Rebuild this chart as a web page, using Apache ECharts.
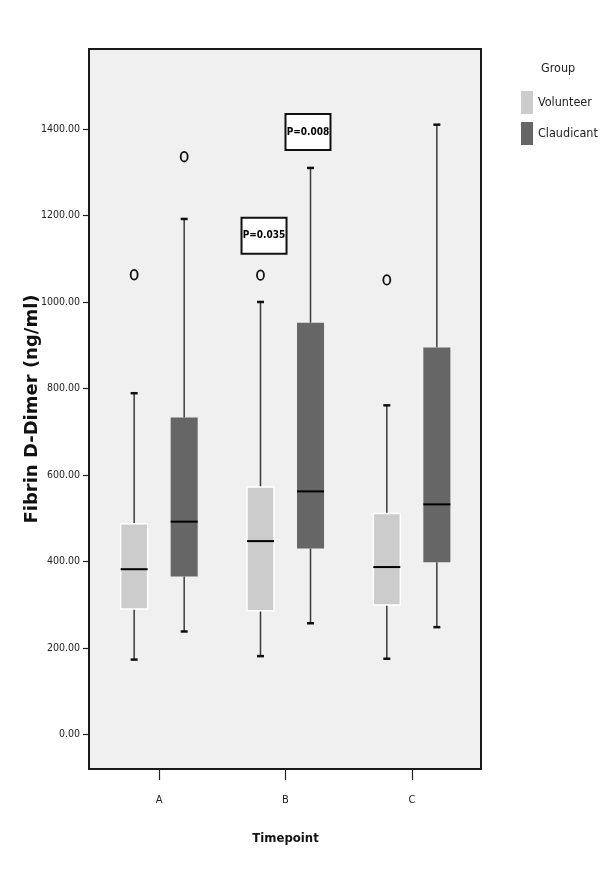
<!DOCTYPE html>
<html><head><meta charset="utf-8">
<script src="https://cdn.jsdelivr.net/npm/echarts@6/dist/echarts.min.js"></script>
<style>html,body{margin:0;padding:0;background:#fff}#c{width:600px;height:892px}</style>
</head><body><div id="c"></div>
<script>
// ---- data ----
var categories = ['A', 'B', 'C'];
var yTicks = [0, 200, 400, 600, 800, 1000, 1200, 1400];
// [low whisker, Q1, median, Q3, high whisker]
var volunteer = [[173, 290, 382, 487, 789], [181, 286, 447, 572, 1000], [175, 299, 387, 511, 761]];
var claudicant = [[238, 365, 492, 733, 1192], [257, 430, 562, 952, 1310], [248, 398, 532, 895, 1410]];
var volunteerOutliers = [['A', 1063], ['B', 1062], ['C', 1051]];
var claudicantOutliers = [['A', 1336]];
var pLabels = ['P=0.035', 'P=0.008'];
var pAnchors = [['B', 1153, 'Volunteer'], ['B', 1393, 'Claudicant']];

// ---- styling ----
var NARROW = "'Liberation Sans Narrow','DejaVu Sans Condensed','Arial Narrow',sans-serif";
var SIDE = { Volunteer: -0.198, Claudicant: 0.198 };
var ANNOT_SIDE = { Volunteer: -0.17, Claudicant: 0.178 };
var BOX = 0.214;

function boxRenderer(side, fill, stroke, strokeW) {
  return function (params, api) {
    var c = api.value(0);
    var band = api.size([1, 0])[0];
    var cx = api.coord([c, 0])[0] + side * band;
    var w = band * BOX;
    var y = function (i) { return api.coord([c, api.value(i)])[1]; };
    var yl = y(1), yq1 = y(2), ym = y(3), yq3 = y(4), yh = y(5);
    var ws = { stroke: '#3a3a3a', lineWidth: 1.5 };
    var cs = { stroke: '#111', lineWidth: 2.5 };
    return { type: 'group', children: [
      { type: 'line', shape: { x1: cx, y1: yq3, x2: cx, y2: yh }, style: ws },
      { type: 'line', shape: { x1: cx, y1: yq1, x2: cx, y2: yl }, style: ws },
      { type: 'line', shape: { x1: cx - 3.5, y1: yh, x2: cx + 3.5, y2: yh }, style: cs },
      { type: 'line', shape: { x1: cx - 3.5, y1: yl, x2: cx + 3.5, y2: yl }, style: cs },
      { type: 'rect', shape: { x: cx - w / 2, y: yq3, width: w, height: yq1 - yq3 }, style: { fill: fill, stroke: stroke, lineWidth: strokeW } },
      { type: 'line', shape: { x1: cx - w / 2, y1: ym, x2: cx + w / 2, y2: ym }, style: { stroke: '#000', lineWidth: 2 } }
    ] };
  };
}
function outlierRenderer(side) {
  return function (params, api) {
    var band = api.size([1, 0])[0];
    var p = api.coord([api.value(0), api.value(1)]);
    return { type: 'ellipse', shape: { cx: p[0] + side * band, cy: p[1], rx: 3.5, ry: 4.8 },
      style: { fill: 'none', stroke: '#111', lineWidth: 1.8 } };
  };
}
function annotRenderer(params, api) {
  var idx = params.dataIndex;
  var band = api.size([1, 0])[0];
  var p = api.coord([api.value(0), api.value(1)]);
  var cx = p[0] + ANNOT_SIDE[pAnchors[idx][2]] * band, cy = p[1];
  return { type: 'group', children: [
    { type: 'rect', shape: { x: cx - 22.5, y: cy - 18, width: 45, height: 36 }, style: { fill: '#fff', stroke: '#111', lineWidth: 2 } },
    { type: 'text', style: { text: pLabels[idx], x: cx, y: cy, align: 'center', verticalAlign: 'middle',
      fontFamily: NARROW, fontWeight: 'bold', fontSize: 10, fill: '#000' } }
  ] };
}
function idx(c) { return categories.indexOf(c); }

var chart = echarts.init(document.getElementById('c'), null, { renderer: 'canvas' });
chart.setOption({
  animation: false,
  backgroundColor: '#fff',
  title: { text: 'Group', left: 541, top: 62, padding: 0,
    textStyle: { fontFamily: NARROW, fontWeight: 'normal', fontSize: 12.5, color: '#222' } },
  legend: { orient: 'vertical', left: 521, top: 91, padding: 0, itemWidth: 12, itemHeight: 23, itemGap: 8,
    selectedMode: false,
    data: [{ name: 'Volunteer', icon: 'rect', itemStyle: { color: '#cccccc' } },
           { name: 'Claudicant', icon: 'rect', itemStyle: { color: '#666666' } }],
    textStyle: { fontFamily: NARROW, fontSize: 12.5, color: '#222' } },
  graphic: [{ type: 'rect', z: -10, silent: true, shape: { x: 89, y: 49, width: 392, height: 720 },
    style: { fill: '#f0f0f0', stroke: '#1a1a1a', lineWidth: 2 } }],
  grid: { left: 96, right: 125, top: 49, bottom: 123 },
  xAxis: { type: 'category', data: categories, name: 'Timepoint', nameLocation: 'middle', nameGap: 63,
    nameTextStyle: { fontFamily: NARROW, fontWeight: 'bold', fontSize: 13, color: '#111' },
    axisLine: { show: false, onZero: false }, splitLine: { show: false },
    axisTick: { show: true, alignWithLabel: true, length: 11, lineStyle: { color: '#222', width: 1.2 } },
    axisLabel: { margin: 26, fontFamily: NARROW, fontSize: 11, color: '#222' } },
  yAxis: { type: 'value', min: -80, max: 1585, offset: 7,
    name: 'Fibrin D-Dimer (ng/ml)', nameLocation: 'middle', nameGap: 48, nameMoveOverlap: false,
    nameTextStyle: { fontFamily: 'DejaVu Sans', fontWeight: 'bold', fontSize: 18, color: '#111' },
    axisLine: { show: false }, splitLine: { show: false },
    axisTick: { show: true, length: 6, customValues: yTicks, lineStyle: { color: '#222', width: 1.2 } },
    axisLabel: { customValues: yTicks, formatter: function (v) { return v.toFixed(2); }, margin: 9,
      fontFamily: NARROW, fontSize: 10.5, color: '#222' } },
  series: [
    { type: 'custom', name: 'Volunteer', itemStyle: { color: '#cccccc' }, encode: { x: 0, y: [1, 2, 3, 4, 5] },
      renderItem: boxRenderer(SIDE.Volunteer, '#cccccc', '#ffffff', 1.5),
      data: volunteer.map(function (d, i) { return [i].concat(d); }) },
    { type: 'custom', name: 'Claudicant', itemStyle: { color: '#666666' }, encode: { x: 0, y: [1, 2, 3, 4, 5] },
      renderItem: boxRenderer(SIDE.Claudicant, '#666666', '#666666', 0),
      data: claudicant.map(function (d, i) { return [i].concat(d); }) },
    { type: 'custom', name: 'Volunteer outliers', encode: { x: 0, y: 1 },
      renderItem: outlierRenderer(SIDE.Volunteer),
      data: volunteerOutliers.map(function (d) { return [idx(d[0]), d[1]]; }) },
    { type: 'custom', name: 'Claudicant outliers', encode: { x: 0, y: 1 },
      renderItem: outlierRenderer(SIDE.Claudicant),
      data: claudicantOutliers.map(function (d) { return [idx(d[0]), d[1]]; }) },
    { type: 'custom', name: 'P values', encode: { x: 0, y: 1 }, z: 5,
      renderItem: annotRenderer,
      data: pAnchors.map(function (d) { return [idx(d[0]), d[1]]; }) }
  ]
});
</script></body></html>
